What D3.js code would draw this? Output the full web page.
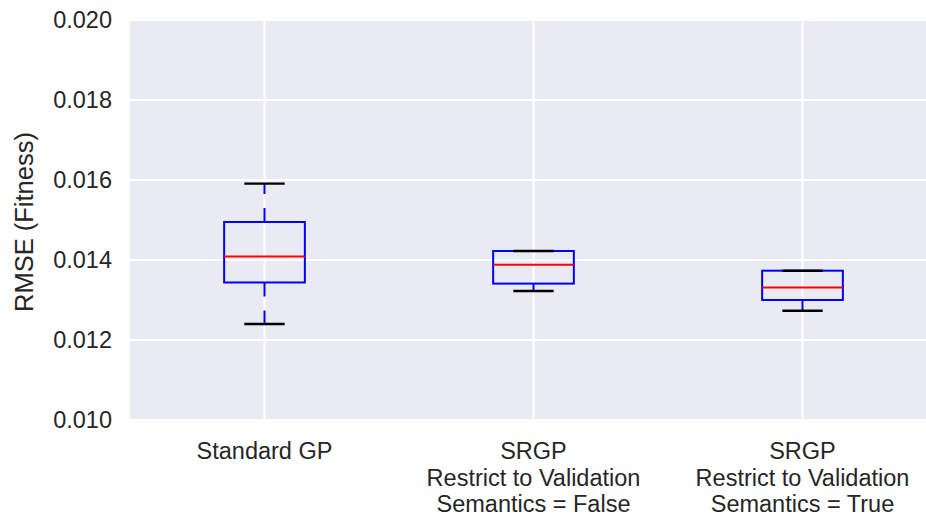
<!DOCTYPE html>
<html>
<head>
<meta charset="utf-8">
<script src="https://cdn.jsdelivr.net/npm/d3@7"></script>
<style>
  html, body { margin: 0; padding: 0; background: #fff; }
  svg { display: block; }
  text { font-family: "Liberation Sans", Arial, sans-serif; fill: #262626; }
</style>
</head>
<body>
<div class="chart"></div>
<script>
// data
const categories = [
  ["Standard GP"],
  ["SRGP", "Restrict to Validation", "Semantics = False"],
  ["SRGP", "Restrict to Validation", "Semantics = True"]
];
const whiskerLow  = [0.01240, 0.013225, 0.012733];
const q1          = [0.013438, 0.01341, 0.01300];
const medians     = [0.01409, 0.01388, 0.01331];
const q3          = [0.01495, 0.014225, 0.013733];
const whiskerHigh = [0.01591, 0.014225, 0.013733];
const yTicks = [0.010, 0.012, 0.014, 0.016, 0.018, 0.020];

const width = 926, height = 525;
const margin = { top: 20, left: 130, bottom: 105 };
const plotRight = 937; // axes run slightly past the picture edge
const fontSize = "23.5px";

const svg = d3.select(".chart").append("svg")
  .attr("width", width)
  .attr("height", height);

const x = d3.scaleLinear().domain([0.5, 3.5]).range([margin.left, plotRight]);
const y = d3.scaleLinear().domain([0.010, 0.020]).range([height - margin.bottom, margin.top]);
const boxW = x(1.3) - x(1);      // matplotlib width 0.3
const capW = boxW / 2;

// background
svg.append("rect")
  .attr("x", x(0.5)).attr("y", y(0.020))
  .attr("width", x(3.5) - x(0.5))
  .attr("height", y(0.010) - y(0.020))
  .attr("fill", "#EAEAF2");

// grid
const grid = svg.append("g").attr("stroke", "#fff").attr("stroke-width", 2);
grid.selectAll(".hgrid").data(yTicks).enter().append("line")
  .attr("x1", x(0.5)).attr("x2", x(3.5))
  .attr("y1", d => y(d)).attr("y2", d => y(d));
grid.selectAll(".vgrid").data(d3.range(1, categories.length + 1)).enter().append("line")
  .attr("x1", d => x(d)).attr("x2", d => x(d))
  .attr("y1", y(0.010)).attr("y2", y(0.020));

// y axis
const yAxis = svg.append("g")
  .attr("transform", `translate(${margin.left},0)`)
  .call(d3.axisLeft(y).tickValues(yTicks).tickFormat(d3.format(".3f")).tickSize(0).tickPadding(18));
yAxis.select(".domain").remove();
yAxis.selectAll("text")
  .attr("font-size", fontSize)
  .attr("fill", "#262626")
  .attr("font-family", "Liberation Sans, Arial, sans-serif");

svg.append("text")
  .attr("transform", `translate(33,${(y(0.010) + y(0.020)) / 2 + 2}) rotate(-90)`)
  .attr("text-anchor", "middle")
  .attr("font-size", "25.5px")
  .text("RMSE (Fitness)");

// x labels
const xl = svg.append("g").selectAll("text").data(categories).enter().append("text")
  .attr("x", (d, i) => x(i + 1))
  .attr("y", 459)
  .attr("text-anchor", "middle")
  .attr("font-size", fontSize);
xl.selectAll("tspan").data(d => d).enter().append("tspan")
  .attr("x", function () { return this.parentNode.getAttribute("x"); })
  .attr("dy", (d, i) => i === 0 ? 0 : 26.7)
  .text(d => d);

// boxes
const boxes = svg.append("g").selectAll("g").data(categories).enter().append("g");

boxes.append("line") // upper whisker
  .attr("x1", (d, i) => x(i + 1)).attr("x2", (d, i) => x(i + 1))
  .attr("y1", (d, i) => y(q3[i])).attr("y2", (d, i) => y(whiskerHigh[i]))
  .attr("stroke", "#0000FF").attr("stroke-width", 2).attr("stroke-dasharray", "14,14");
boxes.append("line") // lower whisker
  .attr("x1", (d, i) => x(i + 1)).attr("x2", (d, i) => x(i + 1))
  .attr("y1", (d, i) => y(q1[i])).attr("y2", (d, i) => y(whiskerLow[i]))
  .attr("stroke", "#0000FF").attr("stroke-width", 2).attr("stroke-dasharray", "14,14");

boxes.append("rect")
  .attr("x", (d, i) => x(i + 1) - boxW / 2)
  .attr("y", (d, i) => y(q3[i]))
  .attr("width", boxW)
  .attr("height", (d, i) => y(q1[i]) - y(q3[i]))
  .attr("fill", "none")
  .attr("stroke", "#0000FF").attr("stroke-width", 2);

boxes.append("line") // median
  .attr("x1", (d, i) => x(i + 1) - boxW / 2).attr("x2", (d, i) => x(i + 1) + boxW / 2)
  .attr("y1", (d, i) => y(medians[i])).attr("y2", (d, i) => y(medians[i]))
  .attr("stroke", "#FF0000").attr("stroke-width", 2);

// caps
[whiskerLow, whiskerHigh].forEach(arr => {
  boxes.append("line")
    .attr("x1", (d, i) => x(i + 1) - capW / 2).attr("x2", (d, i) => x(i + 1) + capW / 2)
    .attr("y1", (d, i) => y(arr[i])).attr("y2", (d, i) => y(arr[i]))
    .attr("stroke", "#000").attr("stroke-width", 2.4);
});
</script>
</body>
</html>
